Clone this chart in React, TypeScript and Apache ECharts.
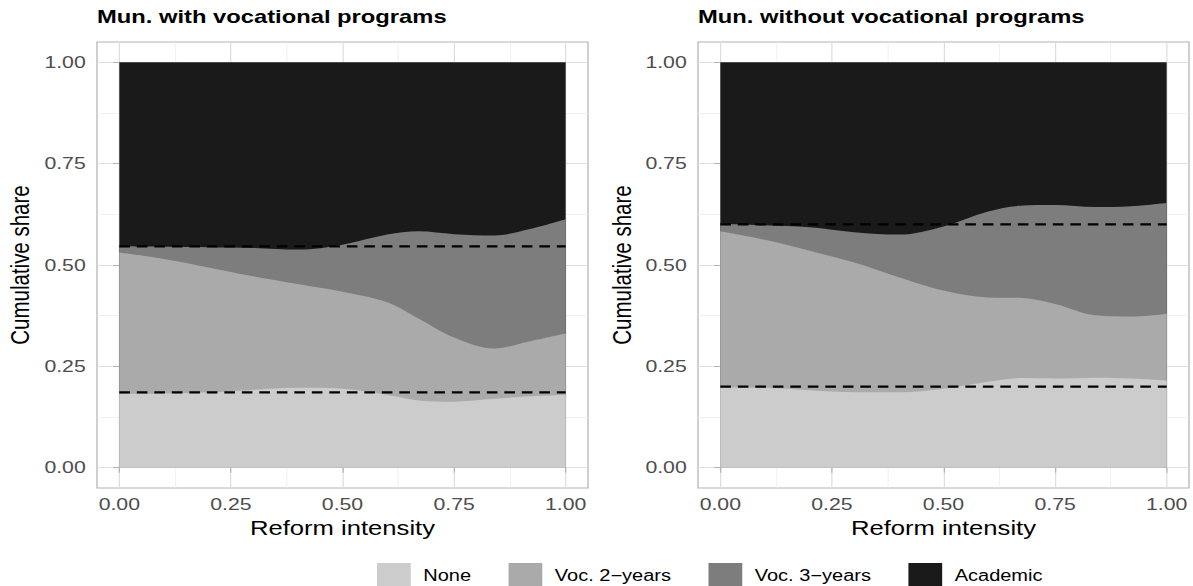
import React, { useEffect, useRef } from "react";
import * as echarts from "echarts";

// Reform intensity grid on which the smoothed shares are evaluated
const intensity = [0, 0.1, 0.2, 0.3, 0.4, 0.5, 0.6, 0.67, 0.75, 0.84, 0.92, 1.0];

// Municipalities with vocational programs: cumulative share at the top of each category
const withNoneTop = [0.182, 0.183, 0.186, 0.192, 0.197, 0.195, 0.18, 0.166, 0.163, 0.17, 0.176, 0.18];
const withVoc2Top = [0.531, 0.515, 0.494, 0.472, 0.453, 0.434, 0.408, 0.368, 0.321, 0.294, 0.312, 0.331];
const withVoc3Top = [0.546, 0.545, 0.544, 0.542, 0.538, 0.55, 0.575, 0.583, 0.576, 0.573, 0.589, 0.613];
const withAcademicTop = [1, 1, 1, 1, 1, 1, 1, 1, 1, 1, 1, 1];
const withBaseline = [0.186, 0.546];

// Municipalities without vocational programs
const withoutNoneTop = [0.198, 0.197, 0.191, 0.186, 0.186, 0.195, 0.212, 0.221, 0.22, 0.222, 0.22, 0.215];
const withoutVoc2Top = [0.583, 0.562, 0.535, 0.506, 0.47, 0.437, 0.42, 0.419, 0.404, 0.376, 0.373, 0.38];
const withoutVoc3Top = [0.602, 0.598, 0.593, 0.581, 0.575, 0.595, 0.632, 0.646, 0.648, 0.643, 0.645, 0.653];
const withoutAcademicTop = [1, 1, 1, 1, 1, 1, 1, 1, 1, 1, 1, 1];
const withoutBaseline = [0.2, 0.6];

const categories = ["None", "Voc. 2\u2212years", "Voc. 3\u2212years", "Academic"];
const fills = ["#cccccc", "#aaaaaa", "#7d7d7d", "#1a1a1a"];
const panelTitles = ["Mun. with vocational programs", "Mun. without vocational programs"];
const majorTicks = [0, 0.25, 0.5, 0.75, 1];
const minorTicks = [0.125, 0.375, 0.625, 0.875];

const FONT = "Liberation Sans, Arial, Helvetica, sans-serif";

// The figure is laid out on a narrower canvas and widened horizontally on screen.
const PAGE_W = 1193;
const PAGE_H = 586;
const STRETCH = 1.25;
const CANVAS_W = PAGE_W / STRETCH;
const u = (px: number) => px / STRETCH;

const panels = [
  { tops: [withNoneTop, withVoc2Top, withVoc3Top, withAcademicTop], baseline: withBaseline },
  { tops: [withoutNoneTop, withoutVoc2Top, withoutVoc3Top, withoutAcademicTop], baseline: withoutBaseline },
];

const gridLefts = [u(97), u(698)];
const yTitleX = [u(20), u(622)];

function buildOption() {
  const grid: any[] = [];
  const xAxis: any[] = [];
  const yAxis: any[] = [];
  const series: any[] = [];
  const title: any[] = [];
  const graphic: any[] = [];

  panels.forEach((panel, p) => {
    grid.push({
      left: gridLefts[p],
      top: 42,
      width: u(491),
      height: 446,
      show: true,
      borderColor: "#b3b3b3",
      borderWidth: 1,
      backgroundColor: "#ffffff",
    });

    title.push({
      text: panelTitles[p],
      left: gridLefts[p] - 5,
      top: 2,
      textStyle: { fontFamily: FONT, fontSize: 19, fontWeight: "bold", color: "#000" },
    });

    const common = { type: "value", min: -0.05, max: 1.05, gridIndex: p };
    const tickLabel = {
      customValues: majorTicks,
      formatter: (v: number) => v.toFixed(2),
      color: "#4d4d4d",
      fontSize: 17,
      fontFamily: FONT,
    };
    // major axis with ticks, labels and major grid lines
    xAxis.push({
      ...common,
      axisLine: { show: false },
      axisTick: { show: true, customValues: majorTicks, length: 5, lineStyle: { color: "#b3b3b3" } },
      axisLabel: { ...tickLabel, margin: 8 },
      splitLine: { show: true, lineStyle: { color: "#dedede", width: 1 } },
      name: "Reform intensity",
      nameLocation: "middle",
      nameGap: 26,
      nameTextStyle: { fontFamily: FONT, fontSize: 20.5, color: "#000" },
    });
    // minor grid lines only
    xAxis.push({
      ...common,
      axisLine: { show: false },
      axisTick: { show: false, customValues: minorTicks },
      axisLabel: { show: false },
      splitLine: { show: true, lineStyle: { color: "#ececec", width: 0.7 } },
    });
    yAxis.push({
      ...common,
      axisLine: { show: false },
      axisTick: { show: true, customValues: majorTicks, length: 5, lineStyle: { color: "#b3b3b3" } },
      axisLabel: { ...tickLabel, margin: 9 },
      splitLine: { show: true, lineStyle: { color: "#dedede", width: 1 } },
    });
    yAxis.push({
      ...common,
      axisLine: { show: false },
      axisTick: { show: false, customValues: minorTicks },
      axisLabel: { show: false },
      splitLine: { show: true, lineStyle: { color: "#ececec", width: 0.7 } },
    });

    // layers drawn from the top category down so lower layers sit in front
    for (let i = categories.length - 1; i >= 0; i--) {
      series.push({
        type: "line",
        name: categories[i],
        xAxisIndex: p * 2,
        yAxisIndex: p * 2,
        data: intensity.map((x, k) => [x, panel.tops[i][k]]),
        smooth: 0.35,
        showSymbol: false,
        symbol: "none",
        color: fills[i],
        itemStyle: { color: fills[i] },
        lineStyle: { width: 0, color: fills[i] },
        areaStyle: { color: fills[i], opacity: 1, origin: 0 },
        silent: true,
      });
    }

    panel.baseline.forEach((v) => {
      series.push({
        type: "line",
        name: "baseline",
        xAxisIndex: p * 2,
        yAxisIndex: p * 2,
        data: [
          [0, v],
          [1, v],
        ],
        showSymbol: false,
        symbol: "none",
        lineStyle: { color: "#000", width: 2.3, type: [8.5, 5.5] },
        silent: true,
        z: 5,
      });
    });

    graphic.push({
      type: "text",
      x: yTitleX[p],
      y: 265,
      rotation: Math.PI / 2,
      style: {
        text: "Cumulative share",
        font: `20.5px ${FONT}`,
        fill: "#000",
        align: "center",
        verticalAlign: "middle",
      },
    });
  });

  return {
    animation: false,
    backgroundColor: "#ffffff",
    title,
    grid,
    xAxis,
    yAxis,
    series,
    graphic,
    legend: {
      data: categories,
      left: u(377) - 5,
      top: 558,
      icon: "rect",
      itemWidth: 27,
      itemHeight: 25,
      itemGap: 30,
      textStyle: { fontFamily: FONT, fontSize: 16, color: "#000", padding: [0, 0, 0, 5] },
      selectedMode: false,
    },
  };
}

export default function App() {
  const ref = useRef<HTMLDivElement>(null);

  useEffect(() => {
    if (!ref.current) return;
    const chart = echarts.init(ref.current, null, { renderer: "svg" });
    chart.setOption(buildOption());
    return () => chart.dispose();
  }, []);

  return (
    <div
      style={{
        position: "fixed",
        left: 0,
        top: 0,
        width: PAGE_W,
        height: PAGE_H,
        overflow: "hidden",
        background: "#fff",
      }}
    >
      <div
        ref={ref}
        style={{
          width: CANVAS_W,
          height: PAGE_H,
          transform: `scaleX(${STRETCH})`,
          transformOrigin: "0 0",
        }}
      />
    </div>
  );
}
